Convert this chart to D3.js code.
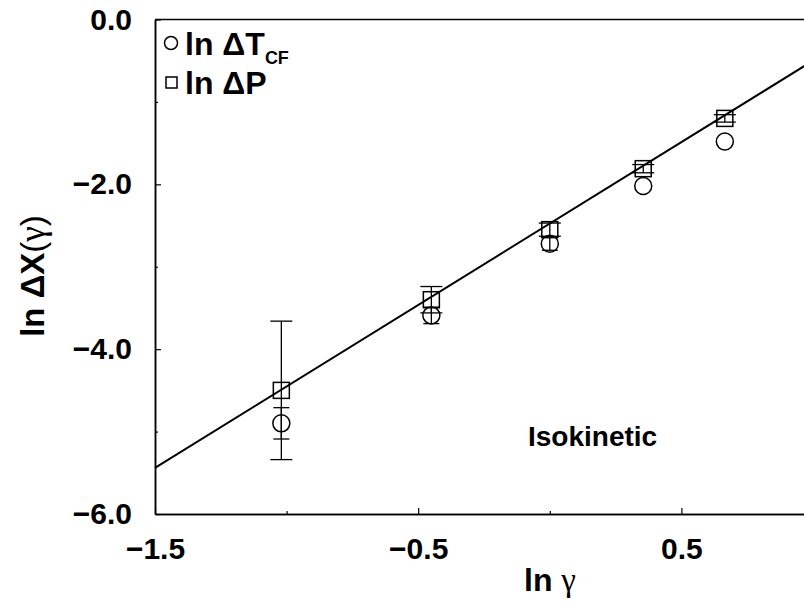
<!DOCTYPE html>
<html>
<head>
<meta charset="utf-8">
<script src="https://cdn.jsdelivr.net/npm/d3@7"></script>
<style>
  html, body { margin: 0; padding: 0; background: #fff; }
  svg { display: block; }
  text { font-family: "Liberation Sans", Arial, Helvetica, sans-serif; }
</style>
</head>
<body>
<svg id="chart" width="804" height="602"></svg>
<script>
// ln(gamma) positions of the measurements
const lnGamma = [-1.02, -0.45, 0.0, 0.355, 0.665];
// ln ΔT_CF (circles) with error half-widths
const lnDeltaT = [-4.90, -3.59, -2.72, -2.02, -1.48];
const errDeltaT = [0.19, 0.10, 0.08, 0, 0];
// ln ΔP (squares) with error half-widths
const lnDeltaP = [-4.50, -3.40, -2.55, -1.81, -1.20];
const errDeltaP = [0.84, 0.16, 0.08, 0.05, 0.045];
// fitted isokinetic line: y = intercept + slope * x
const fitSlope = 1.976;
const fitIntercept = -2.476;
const fitRange = [-1.5, 1.0];
// axis ticks
const xMajorTicks = [-1.5, -0.5, 0.5];
const xMinorTicks = [-1.0, 0.0, 1.0];
const yMajorTicks = [-6, -4, -2, 0];
const yMinorTicks = [-5, -3, -1];

const svg = d3.select("#chart");

const x = d3.scaleLinear().domain([-1.5, 1.0]).range([155, 813]);
const y = d3.scaleLinear().domain([-6, 0]).range([514, 19.5]);

const fmt = d3.format(".1f");

// frame: top edge (left and bottom come from the axes)
svg.append("line")
  .attr("x1", x(-1.5)).attr("x2", x(1.0))
  .attr("y1", y(0)).attr("y2", y(0))
  .attr("stroke", "#000").attr("stroke-width", 1.5);

// axes with inward ticks
const xAxis = svg.append("g")
  .attr("transform", `translate(0,${y(-6)})`)
  .call(d3.axisBottom(x).tickValues(xMajorTicks).tickSize(-6).tickSizeOuter(0).tickPadding(24).tickFormat(fmt));
const xMinor = svg.append("g")
  .attr("transform", `translate(0,${y(-6)})`)
  .call(d3.axisBottom(x).tickValues(xMinorTicks).tickSize(-3).tickSizeOuter(0).tickFormat(""));
const yAxis = svg.append("g")
  .attr("transform", `translate(${x(-1.5)},0)`)
  .call(d3.axisLeft(y).tickValues(yMajorTicks).tickSize(-6).tickSizeOuter(0).tickPadding(23).tickFormat(fmt));
const yMinor = svg.append("g")
  .attr("transform", `translate(${x(-1.5)},0)`)
  .call(d3.axisLeft(y).tickValues(yMinorTicks).tickSize(-3).tickSizeOuter(0).tickFormat(""));

[xAxis, xMinor, yAxis, yMinor].forEach(g => {
  g.select(".domain").attr("stroke", "#000").attr("stroke-width", 1.5);
  g.selectAll(".tick line").attr("stroke", "#000").attr("stroke-width", 1.2);
  g.selectAll(".tick text")
    .attr("fill", "#000")
    .style("font-size", "30px")
    .style("font-weight", "bold")
    .style("font-family", "'Liberation Sans', Arial, sans-serif");
});

// axis titles
const xTitle = svg.append("text")
  .attr("x", 550).attr("y", 591)
  .attr("text-anchor", "middle")
  .style("font-size", "32px");
xTitle.append("tspan").style("font-weight", "bold").text("ln ");
xTitle.append("tspan").style("font-family", "'Liberation Serif', 'DejaVu Serif', serif").style("font-size", "33px").text("γ");

const yTitle = svg.append("text")
  .attr("transform", "translate(44,276) rotate(-90)")
  .attr("text-anchor", "middle")
  .style("font-size", "33px");
yTitle.append("tspan").style("font-weight", "bold").text("ln ");
yTitle.append("tspan").style("font-weight", "bold").text("ΔX");
yTitle.append("tspan").text("(");
yTitle.append("tspan").style("font-family", "'Liberation Serif', 'DejaVu Serif', serif").style("font-size", "35px").text("γ");
yTitle.append("tspan").text(")");

// fitted line
const fitLine = d3.line().x(d => x(d)).y(d => y(fitIntercept + fitSlope * d));
svg.append("path")
  .datum(fitRange)
  .attr("d", fitLine)
  .attr("fill", "none")
  .attr("stroke", "#000")
  .attr("stroke-width", 2);

// error bars (skipped where the error is zero)
function errorBars(values, errs, capHalf) {
  const g = svg.append("g").attr("stroke", "#000").attr("stroke-width", 1.3);
  lnGamma.forEach((xv, i) => {
    if (!errs[i]) return;
    const cx = x(xv), top = y(values[i] + errs[i]), bot = y(values[i] - errs[i]);
    g.append("line").attr("x1", cx).attr("x2", cx).attr("y1", top).attr("y2", bot);
    g.append("line").attr("x1", cx - capHalf).attr("x2", cx + capHalf).attr("y1", top).attr("y2", top);
    g.append("line").attr("x1", cx - capHalf).attr("x2", cx + capHalf).attr("y1", bot).attr("y2", bot);
  });
}
errorBars(lnDeltaT, errDeltaT, 8);
errorBars(lnDeltaP, errDeltaP, 11);

// circles: ln ΔT_CF
svg.append("g").selectAll("circle")
  .data(lnGamma)
  .join("circle")
  .attr("cx", d => x(d))
  .attr("cy", (d, i) => y(lnDeltaT[i]))
  .attr("r", 8.5)
  .attr("fill", "none")
  .attr("stroke", "#000")
  .attr("stroke-width", 1.5);

// squares: ln ΔP
const sq = 16;
svg.append("g").selectAll("rect")
  .data(lnGamma)
  .join("rect")
  .attr("x", d => x(d) - sq / 2)
  .attr("y", (d, i) => y(lnDeltaP[i]) - sq / 2)
  .attr("width", sq).attr("height", sq)
  .attr("fill", "none")
  .attr("stroke", "#000")
  .attr("stroke-width", 1.5);

// legend
const legend = svg.append("g");
legend.append("circle")
  .attr("cx", 171).attr("cy", 43).attr("r", 6.5)
  .attr("fill", "none").attr("stroke", "#000").attr("stroke-width", 1.5);
const l1 = legend.append("text")
  .attr("x", 185).attr("y", 55)
  .style("font-size", "32px").style("font-weight", "bold");
l1.append("tspan").text("ln ΔT");
l1.append("tspan").attr("dy", 9).style("font-size", "18px").text("CF");

legend.append("rect")
  .attr("x", 166).attr("y", 77).attr("width", 11).attr("height", 11)
  .attr("fill", "none").attr("stroke", "#000").attr("stroke-width", 1.5);
legend.append("text")
  .attr("x", 185).attr("y", 94)
  .style("font-size", "32px").style("font-weight", "bold")
  .text("ln ΔP");

// annotation
svg.append("text")
  .attr("x", 528).attr("y", 446)
  .style("font-size", "28px").style("font-weight", "bold")
  .text("Isokinetic");
</script>
</body>
</html>
